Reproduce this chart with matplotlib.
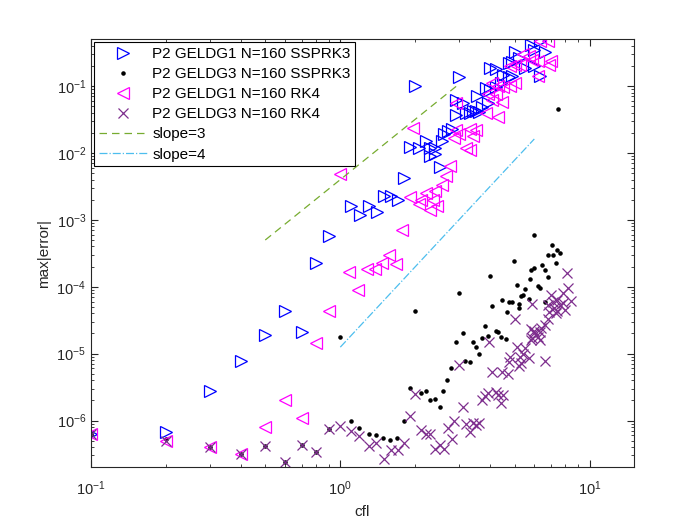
import numpy as np
import matplotlib
matplotlib.use('Agg')
import matplotlib.pyplot as plt
from matplotlib.ticker import NullFormatter, LogLocator

plt.rcParams['font.family'] = ['Liberation Sans', 'DejaVu Sans']
plt.rcParams['mathtext.fontset'] = 'custom'
plt.rcParams['mathtext.rm'] = 'Liberation Sans'

# P2 GELDG1 N=160 SSPRK3
cfl_g1_ssp = [0.1, 0.2, 0.3, 0.4, 0.5, 0.6, 0.7, 0.8, 0.9, 1.1, 1.2, 1.3, 1.4, 1.5, 1.6, 1.7,
              1.8, 1.9, 2.0, 2.07, 2.2, 2.3, 2.3, 2.4, 2.4, 2.5, 2.56, 2.6, 2.7, 2.8, 2.9, 2.9,
              3.0, 3.1, 3.2, 3.3, 3.4, 3.5, 3.6, 3.55, 3.7, 3.85, 3.9, 4.0, 4.0, 4.2, 4.2, 4.4,
              4.5, 4.76, 4.76, 4.9, 4.9, 5.0, 5.2, 5.5, 5.8, 6.0, 6.0, 6.3, 6.3, 6.6]
err_g1_ssp = [6.3e-7, 6.7e-7, 2.75e-6, 7.8e-6, 1.87e-5, 4.3e-5, 2.1e-5, 2.3e-4, 5.8e-4, 1.6e-3,
              1.2e-3, 1.6e-3, 1.3e-3, 2.3e-3, 2.3e-3, 2.0e-3, 4.3e-3, 1.24e-2, 0.1, 1.17e-2,
              1.5e-2, 1.2e-2, 9.1e-3, 1.17e-2, 9.5e-3, 6.2e-3, 1.5e-2, 1.9e-2, 2.1e-2, 2.3e-2,
              3.7e-2, 6.2e-2, 0.138, 5.5e-2, 3.9e-2, 4.0e-2, 4.2e-2, 4.3e-2, 4.1e-2, 7.2e-2,
              4.9e-2, 9.3e-2, 5.5e-2, 0.089, 0.187, 0.18, 0.097, 0.11, 0.148, 0.137, 0.22,
              0.14, 0.23, 0.32, 0.26, 0.187, 0.41, 0.35, 0.2, 0.47, 0.14, 0.32]

# P2 GELDG3 N=160 SSPRK3
cfl_g3_ssp = [0.1, 0.2, 0.3, 0.4, 0.5, 0.6, 0.7, 0.8, 0.9, 1.0, 1.1, 1.19, 1.3, 1.39, 1.49,
              1.58, 1.69, 1.8, 1.9, 2.0, 2.1, 2.2, 2.3, 2.4, 2.5, 2.58, 2.68, 2.78, 2.9, 2.99,
              3.1, 3.17, 3.3, 3.4, 3.5, 3.6, 3.7, 3.79, 3.9, 3.99, 4.06, 4.2, 4.3, 4.4, 4.47,
              4.6, 4.65, 4.76, 4.9, 4.98, 5.1, 5.2, 5.2, 5.3, 5.4, 5.5, 5.7, 5.75, 5.84, 5.97,
              6.0, 6.2, 6.3, 6.46, 6.6, 6.6, 6.8, 6.8, 7.08, 7.1, 7.3, 7.4, 7.48, 7.6]
err_g3_ssp = [6.3e-7, 5.2e-7, 4.0e-7, 3.2e-7, 4.2e-7, 2.4e-7, 4.3e-7, 3.4e-7, 7.5e-7, 1.8e-5,
              9.7e-7, 7.8e-7, 6.3e-7, 6.1e-7, 5.4e-7, 5.1e-7, 5.4e-7, 1.0e-6, 3.1e-6, 4.4e-5,
              2.6e-6, 2.8e-6, 2.0e-6, 2.07e-6, 1.6e-6, 2.8e-6, 4.0e-6, 6.2e-6, 1.5e-5, 8.1e-5,
              2.0e-5, 7.8e-6, 7.4e-6, 1.48e-5, 1.24e-5, 9.8e-6, 1.7e-5, 2.6e-5, 1.85e-5, 1.44e-4,
              5.2e-5, 2.2e-5, 2.1e-5, 1.8e-5, 6.3e-5, 1.65e-5, 4.2e-5, 6.0e-5, 6.0e-5, 2.4e-4,
              1.07e-4, 5.6e-5, 4.8e-5, 7.2e-5, 7.6e-5, 9.3e-5, 6.6e-5, 1.3e-4, 1.8e-4, 5.9e-4,
              1.9e-4, 1.04e-4, 9.6e-5, 2.1e-4, 1.8e-4, 6.0e-5, 3.0e-4, 1.4e-4, 4.2e-4, 2.95e-4,
              2.3e-4, 3.55e-4, 4.6e-2, 3.16e-4]

# P2 GELDG1 N=160 RK4
cfl_g1_rk4 = [0.1, 0.2, 0.3, 0.4, 0.5, 0.6, 0.7, 0.8, 0.9, 1.0, 1.08, 1.18, 1.28, 1.38, 1.47,
              1.57, 1.67, 1.77, 1.9, 1.95, 2.07, 2.1, 2.2, 2.3, 2.35, 2.4, 2.45, 2.56, 2.65, 2.75,
              2.85, 2.9, 2.9, 3.0, 3.2, 3.3, 3.3, 3.4, 3.5, 3.85, 3.9, 4.06, 4.06, 4.2, 4.3, 4.3,
              4.47, 4.5, 4.8, 4.8, 5.0, 5.0, 5.25, 5.4, 5.7, 5.9, 6.2, 6.2, 6.3, 6.8, 6.9, 7.0]
err_g1_rk4 = [6.3e-7, 5.0e-7, 4.0e-7, 3.2e-7, 8.1e-7, 2.0e-6, 1.08e-6, 1.43e-5, 4.4e-5, 4.9e-3,
              1.66e-4, 8.9e-5, 1.85e-4, 1.85e-4, 2.3e-4, 3.0e-4, 2.2e-4, 7.0e-4, 2.2e-3, 2.4e-2,
              1.7e-3, 2.0e-3, 2.5e-3, 1.4e-3, 2.0e-3, 2.7e-3, 1.6e-3, 3.3e-3, 4.6e-3, 6.5e-3,
              1.7e-2, 2.2e-2, 5.6e-2, 1.9e-2, 1.2e-2, 2.3e-2, 1.1e-2, 1.8e-2, 2.2e-2, 3.9e-2,
              7.5e-2, 0.063, 0.11, 0.075, 0.035, 0.1, 0.057, 0.097, 0.1, 0.2, 0.11, 0.21, 0.21,
              0.30, 0.28, 0.25, 0.24, 0.14, 0.48, 0.47, 0.21, 0.24]

# P2 GELDG3 N=160 RK4
cfl_g3_rk4 = [0.1, 0.2, 0.3, 0.4, 0.5, 0.6, 0.7, 0.8, 0.9, 1.0, 1.1, 1.19, 1.3, 1.39, 1.5, 1.6,
              1.7, 1.8, 1.9, 2.0, 2.1, 2.2, 2.3, 2.4, 2.5, 2.6, 2.7, 2.8, 2.86, 3.0, 3.1, 3.2,
              3.3, 3.4, 3.5, 3.6, 3.7, 3.8, 3.9, 3.96, 4.06, 4.2, 4.3, 4.4, 4.47, 4.5, 4.7, 4.76,
              4.8, 5.0, 5.1, 5.2, 5.25, 5.3, 5.4, 5.5, 5.7, 5.8, 5.8, 5.9, 5.9, 6.0, 6.0, 6.2,
              6.3, 6.3, 6.4, 6.6, 6.6, 6.8, 6.8, 6.9, 7.0, 7.1, 7.2, 7.3, 7.4, 7.4, 7.6, 7.8,
              7.8, 8.0, 8.1, 8.2, 8.4]
err_g3_rk4 = [6.3e-7, 5.0e-7, 4.0e-7, 3.2e-7, 4.2e-7, 2.4e-7, 4.3e-7, 3.4e-7, 7.5e-7, 8.2e-7,
              6.9e-7, 5.9e-7, 4.2e-7, 4.6e-7, 2.65e-7, 3.6e-7, 3.6e-7, 4.6e-7, 1.15e-6, 2.5e-6,
              7.2e-7, 6.2e-7, 6.2e-7, 3.7e-7, 4.3e-7, 3.7e-7, 7.8e-7, 5.3e-7, 1.0e-6, 6.7e-6,
              1.6e-6, 8.9e-7, 6.7e-7, 9.2e-7, 8.6e-7, 9.1e-7, 2.05e-6, 2.3e-6, 2.6e-6, 1.5e-5,
              5.4e-6, 2.7e-6, 2.4e-6, 1.8e-6, 5.4e-6, 2.4e-6, 4.9e-6, 7.6e-6, 8.8e-6, 3.3e-5,
              1.26e-5, 6.6e-6, 9.0e-6, 7.3e-6, 1.0e-5, 1.2e-5, 8.5e-6, 1.6e-5, 2.3e-5, 1.7e-5,
              5.6e-5, 2.2e-5, 2.0e-5, 1.8e-5, 2.1e-5, 1.6e-5, 2.4e-5, 2.7e-5, 7.7e-6, 5.4e-5,
              3.3e-5, 4.2e-5, 7.6e-5, 6.0e-5, 4.8e-5, 4.0e-5, 6.3e-5, 4.4e-5, 5.4e-5, 8.1e-5,
              5.7e-5, 4.5e-5, 1.6e-4, 9.6e-5, 6.2e-5]

# reference slope lines
slope3_x = [0.5, 3.0]
slope3_c = 4e-3
slope4_x = [1.0, 6.0]
slope4_c = 1.25e-5

xticks = [0.1, 1, 10]
yticks = [1e-6, 1e-5, 1e-4, 1e-3, 1e-2, 1e-1]

txt = (0.15, 0.15, 0.15)

fig = plt.figure(figsize=(7, 5.25), dpi=100)
ax = fig.add_axes([0.13, 0.11, 0.775, 0.815])

ax.loglog(cfl_g1_ssp, err_g1_ssp, '>', color=(0, 0, 1), mfc='none', ms=8, mew=0.9,
          label='P2 GELDG1 N=160 SSPRK3')
ax.loglog(cfl_g3_ssp, err_g3_ssp, '.', color='k', ms=4.5,
          label='P2 GELDG3 N=160 SSPRK3')
ax.loglog(cfl_g1_rk4, err_g1_rk4, '<', color=(1, 0, 1), mfc='none', ms=8, mew=0.9,
          label='P2 GELDG1 N=160 RK4')
ax.loglog(cfl_g3_rk4, err_g3_rk4, 'x', color=(0.494, 0.184, 0.556), ms=6.5, mew=0.9,
          label='P2 GELDG3 N=160 RK4')

s3 = np.array(slope3_x)
s4 = np.array(slope4_x)
ax.loglog(s3, slope3_c * s3 ** 3, '--', color=(0.466, 0.674, 0.188), lw=0.9,
          dashes=(6, 4), label='slope=3')
ax.loglog(s4, slope4_c * s4 ** 4, '-.', color=(0.301, 0.745, 0.933), lw=0.9,
          label='slope=4')

ax.set_xlim(0.1, 15)
ax.set_ylim(2e-7, 0.5)
ax.set_xticks(xticks)
ax.set_yticks(yticks)
ax.xaxis.set_minor_locator(LogLocator(base=10, subs=np.arange(2, 10)))
ax.yaxis.set_minor_locator(LogLocator(base=10, subs=np.arange(2, 10)))
ax.xaxis.set_minor_formatter(NullFormatter())
ax.yaxis.set_minor_formatter(NullFormatter())

ax.set_xlabel('cfl', fontsize=11, color=txt, labelpad=5)
ax.set_ylabel('max|error|', fontsize=11, color=txt)
ax.tick_params(which='both', direction='in', top=True, right=True, colors=txt,
               labelsize=10.5)
ax.tick_params(axis='x', which='both', pad=9)
ax.tick_params(which='major', length=5)
ax.tick_params(which='minor', length=2.5)
for sp in ax.spines.values():
    sp.set_color(txt)
    sp.set_linewidth(0.8)

leg = ax.legend(loc='upper left', fontsize=11, fancybox=False, edgecolor='k',
                framealpha=1, handlelength=3.2, borderaxespad=0.2,
                labelspacing=0.4, borderpad=0.3, handletextpad=0.3)
leg.get_frame().set_linewidth(0.8)

plt.savefig('out.png', dpi=100)
